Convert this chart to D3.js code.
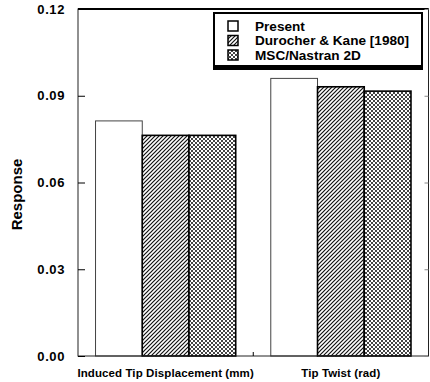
<!DOCTYPE html>
<html lang="en">
<head>
  <meta charset="UTF-8">
  <title>Response chart</title>
  <script src="https://d3js.org/d3.v7.min.js"></script>
  <style>
    body { margin: 0; background: #fff; }
    text { font-family: Arial, "Liberation Sans", Helvetica, sans-serif; font-weight: bold; }
  </style>
</head>
<body>
  <svg id="chart" width="430" height="382"></svg>
  <script>
    // data
    const categories = ['Induced Tip Displacement (mm)', 'Tip Twist (rad)'];
    const series = ['Present', 'Durocher & Kane [1980]', 'MSC/Nastran 2D'];
    const present = [0.0813, 0.0960];
    const durocher = [0.0763, 0.0931];
    const nastran = [0.0763, 0.0916];
    const yTicks = [0, 0.03, 0.06, 0.09, 0.12];

    const values = [present, durocher, nastran];

    const svg = d3.select('svg#chart');
    const margins = { top: 9, right: 1.5, bottom: 26, left: 78 };
    const width = +svg.attr('width');
    const height = +svg.attr('height');
    const chartWidth = width - margins.left - margins.right;
    const chartHeight = height - margins.top - margins.bottom;

    // patterns
    const defs = svg.append('defs');
    const hatch = defs.append('pattern')
      .attr('id', 'hatch')
      .attr('patternUnits', 'userSpaceOnUse')
      .attr('width', 4).attr('height', 4);
    hatch.append('rect').attr('width', 4).attr('height', 4).attr('fill', '#fff');
    hatch.append('path')
      .attr('d', 'M-1,1 L1,-1 M0,4 L4,0 M3,5 L5,3')
      .attr('stroke', '#111').attr('stroke-width', 1.2);

    const cross = defs.append('pattern')
      .attr('id', 'cross')
      .attr('patternUnits', 'userSpaceOnUse')
      .attr('width', 4).attr('height', 4);
    cross.append('rect').attr('width', 4).attr('height', 4).attr('fill', '#fff');
    cross.append('path')
      .attr('d', 'M-1,1 L1,-1 M0,4 L4,0 M3,5 L5,3 M-1,3 L1,5 M0,0 L4,4 M3,-1 L5,1')
      .attr('stroke', '#3a3a3a').attr('stroke-width', 0.95);

    const fills = ['#fff', 'url(#hatch)', 'url(#cross)'];

    const chartArea = svg.append('g')
      .attr('transform', `translate(${margins.left},${margins.top})`);

    const x = d3.scaleBand().domain(categories).range([0, chartWidth])
      .paddingInner(0.2).paddingOuter(0.1);
    const xSub = d3.scaleBand().domain(series).range([0, x.bandwidth()]);
    const y = d3.scaleLinear().domain([0, 0.12]).range([chartHeight, 0]);

    // bars
    categories.forEach((c, i) => {
      series.forEach((s, j) => {
        const v = values[j][i];
        chartArea.append('rect')
          .attr('x', x(c) + xSub(s))
          .attr('y', y(v))
          .attr('width', xSub.bandwidth())
          .attr('height', chartHeight - y(v))
          .attr('fill', fills[j])
          .attr('stroke', j === 0 ? '#444' : '#000')
          .attr('stroke-width', j === 0 ? 1 : 1.6);
      });
    });

    // frame
    chartArea.append('rect')
      .attr('x', 0).attr('y', 0)
      .attr('width', chartWidth).attr('height', chartHeight)
      .attr('fill', 'none').attr('stroke', '#222').attr('stroke-width', 1);
    chartArea.append('line')
      .attr('x1', 0).attr('x2', chartWidth).attr('y1', 0).attr('y2', 0)
      .attr('stroke', '#000').attr('stroke-width', 2);

    // left axis, ticks inward
    const yAxis = d3.axisLeft(y).tickValues(yTicks).tickSize(-7).tickPadding(13)
      .tickFormat(d3.format('.2f'));
    chartArea.append('g').call(yAxis)
      .call(g => g.select('.domain').remove())
      .call(g => g.selectAll('line').attr('stroke', '#000'))
      .call(g => g.selectAll('text').attr('font-size', 13).attr('fill', '#000')
        .attr('font-family', 'Arial, "Liberation Sans", sans-serif').attr('font-weight', 'bold')
        .attr('letter-spacing', 0.6));

    // right axis faint inward ticks
    chartArea.append('g').attr('transform', `translate(${chartWidth},0)`)
      .call(d3.axisRight(y).tickValues(yTicks).tickSize(-4).tickFormat(''))
      .call(g => g.select('.domain').remove())
      .call(g => g.selectAll('line').attr('stroke', '#888'));

    // boundary tick between groups
    const boundary = (x(categories[0]) + x.bandwidth() + x(categories[1])) / 2;
    chartArea.append('line')
      .attr('x1', boundary).attr('x2', boundary)
      .attr('y1', chartHeight).attr('y2', chartHeight - 4)
      .attr('stroke', '#000');

    // category labels
    categories.forEach(c => {
      chartArea.append('text')
        .attr('x', x(c) + x.bandwidth() / 2)
        .attr('y', chartHeight + 21)
        .attr('text-anchor', 'middle')
        .attr('font-size', 11.5)
        .attr('letter-spacing', 0.1)
        .text(c);
    });

    // y label
    svg.append('text')
      .attr('transform', `translate(22,${margins.top + chartHeight / 2 + 12}) rotate(-90)`)
      .attr('text-anchor', 'middle')
      .attr('font-size', 15)
      .text('Response');

    // legend
    const legend = svg.append('g').attr('transform', 'translate(214,13)');
    legend.append('rect')
      .attr('x', -1).attr('y', 2).attr('width', 210).attr('height', 55)
      .attr('fill', '#000');
    legend.append('rect')
      .attr('x', 0).attr('y', 0).attr('width', 208).attr('height', 53)
      .attr('fill', '#fff').attr('stroke', '#000').attr('stroke-width', 2);
    series.forEach((s, j) => {
      legend.append('rect')
        .attr('x', 14).attr('y', 8 + j * 14.5)
        .attr('width', 10).attr('height', 10)
        .attr('fill', fills[j]).attr('stroke', '#000').attr('stroke-width', 1.5);
      legend.append('text')
        .attr('x', 41).attr('y', 17.5 + j * 14.5)
        .attr('font-size', 13.6)
        .text(s);
    });
  </script>
</body>
</html>
